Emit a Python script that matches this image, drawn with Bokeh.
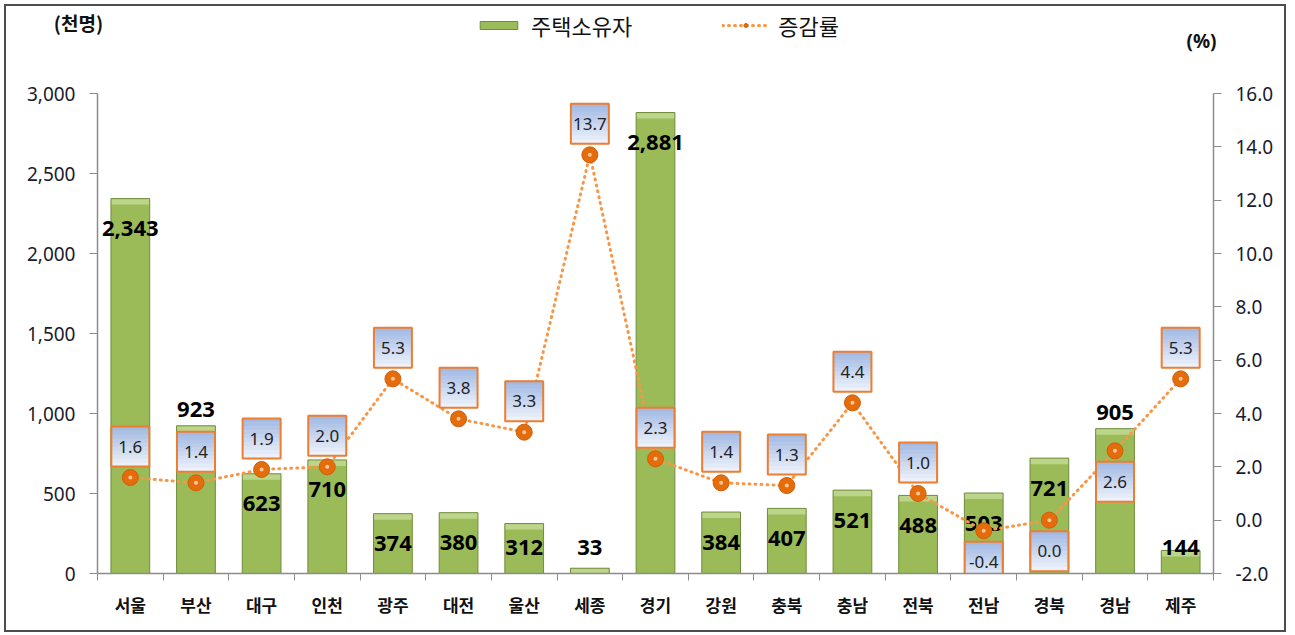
import numpy as np
from bokeh.plotting import figure
from bokeh.layouts import column
from bokeh.models import (Range1d, LinearAxis, FixedTicker, ColumnDataSource, Legend,
                          LegendItem, Label, NumeralTickFormatter)
from bokeh.embed import file_html
from bokeh.resources import INLINE
from bokeh.core.properties import value

# ---------------- data ----------------
regions = ["서울", "부산", "대구", "인천", "광주", "대전", "울산", "세종", "경기",
           "강원", "충북", "충남", "전북", "전남", "경북", "경남", "제주"]
owners = [2343, 923, 623, 710, 374, 380, 312, 33, 2881, 384, 407, 521, 488, 503, 721, 905, 144]
rates = [1.6, 1.4, 1.9, 2.0, 5.3, 3.8, 3.3, 13.7, 2.3, 1.4, 1.3, 4.4, 1.0, -0.4, 0.0, 2.6, 5.3]
owner_ticks = [0, 500, 1000, 1500, 2000, 2500, 3000]
rate_ticks = [-2.0, 0.0, 2.0, 4.0, 6.0, 8.0, 10.0, 12.0, 14.0, 16.0]
owner_label_above = {"부산", "경남"}        # value labels placed above the bar
rate_label_below = {"전남", "경북", "경남"}  # rate boxes placed below the marker

# ---------------- layout constants ----------------
CW = 1278           # content width
HH = 55             # header height
MH = 569            # main plot height
FRAME_H = 480.0
L_MAX, R_MIN, R_MAX = 3000.0, -2.0, 16.0
px_left = FRAME_H / L_MAX
px_right = FRAME_H / (R_MAX - R_MIN)

KFONT = "Noto Sans CJK KR"
NFONT = "Noto Sans"

BAR_FILL = "#9BBB59"
BAR_LINE = "#6F8C3A"
LINE_COL = "#F79646"
MK_FILL = "#E46C0A"
MK_LINE = "#D0600A"

n = len(regions)
xs = list(range(1, n + 1))

# ---------------- main figure ----------------
p = figure(width=CW, height=MH, output_backend="svg", toolbar_location=None,
           x_range=Range1d(0.5, n + 0.5), y_range=Range1d(0, L_MAX),
           min_border_left=91, min_border_right=71, min_border_top=32,
           min_border_bottom=MH - 32 - int(FRAME_H))
p.frame_align = False
p.extra_y_ranges = {"rate": Range1d(R_MIN, R_MAX)}
p.xgrid.visible = False
p.ygrid.visible = False
p.outline_line_color = None

axis_col = "#8C8C8C"
xa = p.xaxis[0]
xa.ticker = FixedTicker(ticks=xs, minor_ticks=[i + 0.5 for i in range(0, n + 1)])
xa.major_label_overrides = {i: r for i, r in zip(xs, regions)}
xa.major_tick_line_color = None
xa.minor_tick_line_color = axis_col
xa.minor_tick_out = 7
xa.minor_tick_in = 0
xa.axis_line_color = axis_col
xa.axis_line_width = 1.5
xa.major_label_text_font = KFONT
xa.major_label_text_font_style = "bold"
xa.major_label_text_font_size = "17px"
xa.major_label_text_color = "#111111"
xa.major_label_standoff = 11

ya = p.yaxis[0]
ya.ticker = FixedTicker(ticks=owner_ticks)
ya.formatter = NumeralTickFormatter(format="0,0")
ya.axis_line_color = axis_col
ya.axis_line_width = 1.5
ya.major_tick_line_color = axis_col
ya.major_tick_out = 8
ya.major_tick_in = 0
ya.minor_tick_line_color = None
ya.major_label_text_font = NFONT
ya.major_label_text_font_size = "19px"
ya.major_label_text_color = "#1a1a2e"
ya.major_label_standoff = 14

ra = LinearAxis(y_range_name="rate", ticker=FixedTicker(ticks=rate_ticks),
                formatter=NumeralTickFormatter(format="0.0"))
ra.axis_line_color = axis_col
ra.axis_line_width = 1.5
ra.major_tick_line_color = axis_col
ra.major_tick_out = 8
ra.major_tick_in = 0
ra.minor_tick_line_color = None
ra.major_label_text_font = NFONT
ra.major_label_text_font_size = "19px"
ra.major_label_text_color = "#1a1a2e"
ra.major_label_standoff = 14
p.add_layout(ra, "right")

# bars
bw = 0.59
src = ColumnDataSource(dict(x=xs, top=owners))
p.vbar(x="x", top="top", bottom=0, width=bw, source=src,
       fill_color=BAR_FILL, line_color=None)
bevel = 6.0 / px_left
p.vbar(x=xs, top=owners, bottom=[max(v - bevel, 0) for v in owners], width=bw,
       fill_color="#BCD58A", line_color=None)
p.vbar(x=xs, top=owners, bottom=0, width=bw, fill_color=None, line_color=BAR_LINE, line_width=1)

# bar value labels
lab_y = []
for r, v in zip(regions, owners):
    if r in owner_label_above:
        lab_y.append(v + 16.0 / px_left)
    else:
        lab_y.append(max(v - 30.0 / px_left, 26.0 / px_left))
p.text(x=xs, y=lab_y, text=[f"{v:,}" for v in owners], text_align="center",
       text_baseline="middle", text_font=value(NFONT), text_font_style="bold",
       text_font_size="22px", text_color="#000000")

# rate line and markers
p.line(x=xs, y=rates, y_range_name="rate", line_color=LINE_COL,
       line_width=3, line_dash="1 5", line_cap="round")
p.scatter(x=xs, y=rates, y_range_name="rate", size=16, marker="circle",
          fill_color=MK_FILL, line_color=MK_LINE, line_width=1)
p.scatter(x=xs, y=rates, y_range_name="rate", size=4, marker="circle",
          fill_color="#F8C6A0", line_color=None)

# rate label boxes with gradient
box_w, box_h = 38, 40
off = 31.0 / px_right
box_y = [(v - off) if r in rate_label_below else (v + off) for r, v in zip(regions, rates)]
nb = 10
top_c = np.array([0xA3, 0xBA, 0xE4])
bot_c = np.array([0xEC, 0xF1, 0xFA])
band_h = box_h / nb
for i in range(nb):
    t = i / (nb - 1)
    c = top_c * (1 - t) + bot_c * t
    col = "#%02x%02x%02x" % tuple(int(round(k)) for k in c)
    dy = (box_h / 2 - band_h * (i + 0.5)) / px_right
    p.rect(x=xs, y=[b + dy for b in box_y], width=box_w, height=band_h + 0.6,
           width_units="screen", height_units="screen", y_range_name="rate",
           fill_color=col, line_color=None)
p.rect(x=xs, y=box_y, width=box_w, height=box_h, width_units="screen", height_units="screen",
       y_range_name="rate", fill_color=None, line_color="#ED7D31", line_width=2)
p.text(x=xs, y=box_y, y_range_name="rate", text=[f"{v:.1f}" for v in rates],
       text_align="center", text_baseline="middle", text_font=value(NFONT),
       text_font_size="17px", text_color="#222222")

# ---------------- header (units + legend) ----------------
h = figure(width=CW, height=HH, output_backend="svg", toolbar_location=None,
           x_range=Range1d(0, CW), y_range=Range1d(0, HH), min_border=0)
h.frame_align = False
h.axis.visible = False
h.grid.visible = False
h.outline_line_color = None

h.add_layout(Label(x=72, y=39, text="(천명)", text_align="center", text_baseline="middle",
                   text_font=KFONT, text_font_style="bold", text_font_size="19px",
                   text_color="#111111"))
h.add_layout(Label(x=1195, y=21, text="(%)", text_align="center", text_baseline="middle",
                   text_font=NFONT, text_font_style="bold", text_font_size="19px",
                   text_color="#111111"))

# legend-only renderers (placed outside the visible header range)
lg_bar = h.vbar(x=[-5000], top=[-5000], width=1, fill_color=BAR_FILL, line_color=BAR_LINE)
lg_line = h.line(x=[-5000, -4999], y=[-5000, -5000], line_color=LINE_COL, line_width=3,
                 line_dash="1 5", line_cap="round")
lg_mk = h.scatter(x=[-5000], y=[-5000], size=16, marker="circle", fill_color=MK_FILL,
                  line_color=MK_LINE)
legend = Legend(items=[LegendItem(label="주택소유자", renderers=[lg_bar]),
                       LegendItem(label="증감률", renderers=[lg_line, lg_mk])],
                orientation="horizontal", location=(469, 20),
                label_text_font=KFONT, label_text_font_size="22px", label_text_color="#111111",
                glyph_width=47, glyph_height=10, spacing=90, label_standoff=9,
                padding=0, margin=0, border_line_color=None, background_fill_alpha=0)
h.add_layout(legend, "center")

layout = column(h, p, spacing=0,
                styles={"border": "2px solid #4d4d4d", "margin": "4px", "background": "white"})
open("out.html", "w").write(file_html(layout, INLINE))
